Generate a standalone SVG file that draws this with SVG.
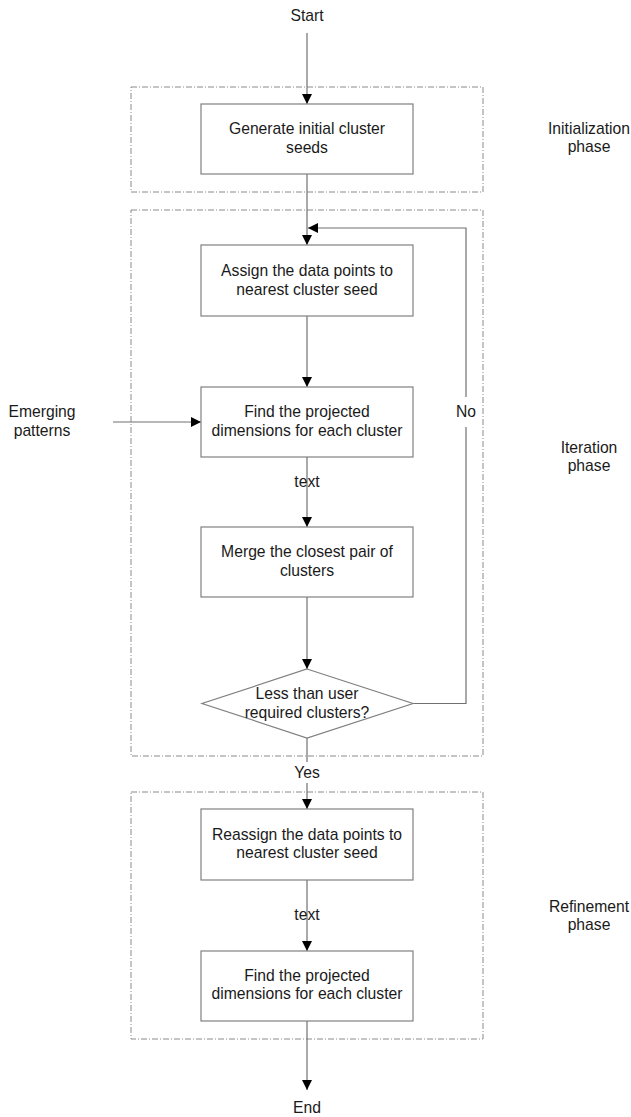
<svg xmlns="http://www.w3.org/2000/svg" width="631" height="1117" viewBox="0 0 631 1117">
<style>
text{font-family:"Liberation Sans",Arial,sans-serif;font-size:15.7px;fill:#1a1a1a;text-anchor:middle}
.box{fill:#fff;stroke:#808080;stroke-width:1.2}
.phase{fill:none;stroke:#8a8a8a;stroke-width:1;stroke-dasharray:6 2 1 2}
.conn{fill:none;stroke:#707070;stroke-width:1.2}
</style>
<defs>
<marker id="arr" viewBox="0 0 10 10" refX="10" refY="5" markerWidth="10" markerHeight="10" markerUnits="userSpaceOnUse" orient="auto">
<path d="M0,0 L10,5 L0,10 z" fill="#000"/>
</marker>
</defs>
<g id="phases">
<rect class="phase" x="131" y="87" width="352" height="105"/>
<rect class="phase" x="131" y="210" width="352" height="546"/>
<rect class="phase" x="131" y="792" width="352" height="247"/>
</g>
<g id="connectors">
<line class="conn" x1="307" y1="33" x2="307" y2="104" marker-end="url(#arr)"/>
<line class="conn" x1="307" y1="174" x2="307" y2="245" marker-end="url(#arr)"/>
<line class="conn" x1="307" y1="316" x2="307" y2="387" marker-end="url(#arr)"/>
<line class="conn" x1="113" y1="422" x2="201" y2="422" marker-end="url(#arr)"/>
<line class="conn" x1="307" y1="457" x2="307" y2="527" marker-end="url(#arr)"/>
<line class="conn" x1="307" y1="597" x2="307" y2="669" marker-end="url(#arr)"/>
<polyline class="conn" points="413,703.5 466,703.5 466,427"/>
<polyline class="conn" points="466,397 466,228 308,228" marker-end="url(#arr)"/>
<line class="conn" x1="307" y1="738" x2="307" y2="762"/>
<line class="conn" x1="307" y1="783" x2="307" y2="809" marker-end="url(#arr)"/>
<line class="conn" x1="307" y1="880" x2="307" y2="951" marker-end="url(#arr)"/>
<line class="conn" x1="307" y1="1021" x2="307" y2="1090" marker-end="url(#arr)"/>
<text x="307" y="487">text</text>
<text x="307" y="920">text</text>
<text x="466" y="417">No</text>
<text x="307" y="778">Yes</text>
</g>
<g id="start"><text x="307" y="21">Start</text></g>
<g id="end"><text x="307" y="1113">End</text></g>
<g id="n1">
<rect class="box" x="201" y="104" width="212" height="70"/>
<text x="307" y="134">Generate initial cluster</text>
<text x="307" y="153">seeds</text>
</g>
<g id="n2">
<rect class="box" x="201" y="245" width="212" height="71"/>
<text x="307" y="276">Assign the data points to</text>
<text x="307" y="295">nearest cluster seed</text>
</g>
<g id="n3">
<rect class="box" x="201" y="387" width="212" height="70"/>
<text x="307" y="417">Find the projected</text>
<text x="307" y="436">dimensions for each cluster</text>
</g>
<g id="n4">
<rect class="box" x="201" y="527" width="212" height="70"/>
<text x="307" y="557">Merge the closest pair of</text>
<text x="307" y="576">clusters</text>
</g>
<g id="n5">
<polygon class="box" points="307,669 413,703.5 307,738 202,703.5"/>
<text x="307" y="699">Less than user</text>
<text x="307" y="718">required clusters?</text>
</g>
<g id="n6">
<rect class="box" x="201" y="809" width="212" height="71"/>
<text x="307" y="840">Reassign the data points to</text>
<text x="307" y="858">nearest cluster seed</text>
</g>
<g id="n7">
<rect class="box" x="201" y="951" width="212" height="70"/>
<text x="307" y="981">Find the projected</text>
<text x="307" y="999">dimensions for each cluster</text>
</g>
<g id="emerging">
<text x="42" y="417">Emerging</text>
<text x="42" y="436">patterns</text>
</g>
<g id="labels">
<text x="589" y="134">Initialization</text>
<text x="589" y="152">phase</text>
<text x="589" y="453">Iteration</text>
<text x="589" y="471">phase</text>
<text x="589" y="912">Refinement</text>
<text x="589" y="930">phase</text>
</g>
</svg>
